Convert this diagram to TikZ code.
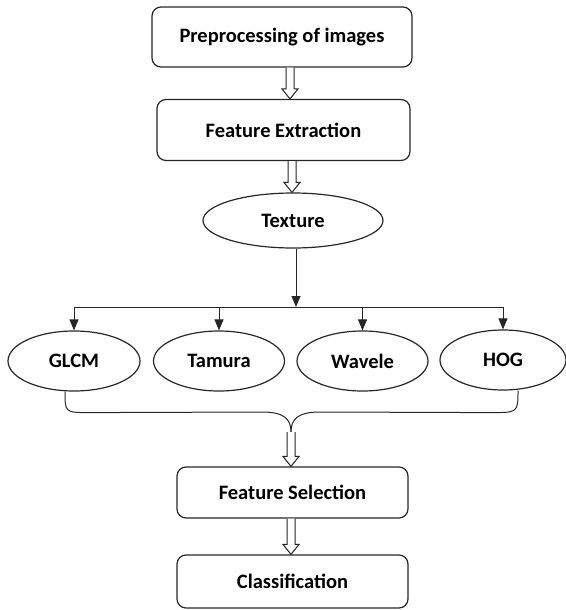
\documentclass[tikz,border=0pt]{standalone}
\usepackage{fontspec}
\setmainfont{Carlito}
\usetikzlibrary{shapes.geometric,arrows.meta,calc}

\tikzset{
  stage/.style={draw=black!85, line width=1.2pt, rounded corners=9pt, font=\fontsize{20.5}{24}\selectfont\bfseries},
  method/.style={draw=black!85, line width=1.2pt, ellipse, inner sep=0pt, font=\fontsize{20.5}{24}\selectfont\bfseries},
  link/.style={draw=black!85, line width=1pt},
  tip/.style={-{Triangle[length=11pt,width=9pt]}},
  hollow/.style={draw=black!85, line width=1pt, fill=white, line join=miter}
}
% open double-line arrow drawn from the first point down to the second
\newcommand\hollowarrow[2]{%
  \draw[hollow] let \p1=(#1), \p2=(#2) in
    (\x1-4pt,\y1) -- (\x1-4pt,\y2+10pt) -- (\x1-8pt,\y2+10pt) -- (\x1,\y2)
    -- (\x1+8pt,\y2+10pt) -- (\x1+4pt,\y2+10pt) -- (\x1+4pt,\y1);}

\begin{document}
\begin{tikzpicture}[x=1pt,y=-1pt]
  \useasboundingbox (0,0) rectangle (565,610);

  \node[stage, minimum width=260pt, minimum height=60pt] (pre) at (282,37) {Preprocessing of images};
  \node[stage, minimum width=253pt, minimum height=61pt] (ext) at (283.5,130) {Feature Extraction};
  \node[method, minimum width=180pt, minimum height=55pt] (tex) at (293,220.5) {Texture};

  \node[method, minimum width=132pt, minimum height=60pt] (glcm) at (74,361) {GLCM};
  \node[method, minimum width=131pt, minimum height=60pt] (tam) at (219,361) {Tamura};
  \node[method, minimum width=131pt, minimum height=60pt] (wav) at (362.5,361) {Wavele};
  \node[method, minimum width=126pt, minimum height=60pt] (hog) at (503,360) {HOG};

  \node[stage, minimum width=231pt, minimum height=51pt] (sel) at (292.5,492.5) {Feature Selection};
  \node[stage, minimum width=231pt, minimum height=53pt] (cls) at (292.5,581.5) {Classification};

  % open arrows between the stages
  \coordinate (a1) at (290,0);
  \coordinate (a2) at (292,0);
  \hollowarrow{pre.south -| a1}{ext.north -| a1}
  \hollowarrow{ext.south -| a2}{tex.north -| a2}

  % fan-out from Texture to the four descriptors
  \coordinate (fork) at (296,307);
  \draw[link, tip] (tex.south -| fork) -- (fork);
  \draw[link] (glcm.north |- fork) -- (hog.north |- fork);
  \foreach \n in {glcm,tam,wav,hog}
    \draw[link, tip] (\n.north |- fork) -- (\n.north);

  % brace gathering the descriptors
  \coordinate (cusp) at (291,432);
  \coordinate (bl) at ($(glcm.south)+(-9,0)$);
  \coordinate (br) at ($(hog.south)+(15,0)$);
  \draw[link] (bl) .. controls ($(bl)+(0,21)$) .. ($(bl)+(25,21)$)
    -- (262,412) .. controls (284,412) and (291,419) .. (cusp);
  \draw[link] (br) .. controls ($(br)+(0,22)$) .. ($(br)+(-28,22)$)
    -- (320,412) .. controls (298,412) and (291,419) .. (cusp);

  \hollowarrow{cusp}{sel.north -| cusp}
  \hollowarrow{sel.south -| cusp}{cls.north -| cusp}
\end{tikzpicture}
\end{document}
